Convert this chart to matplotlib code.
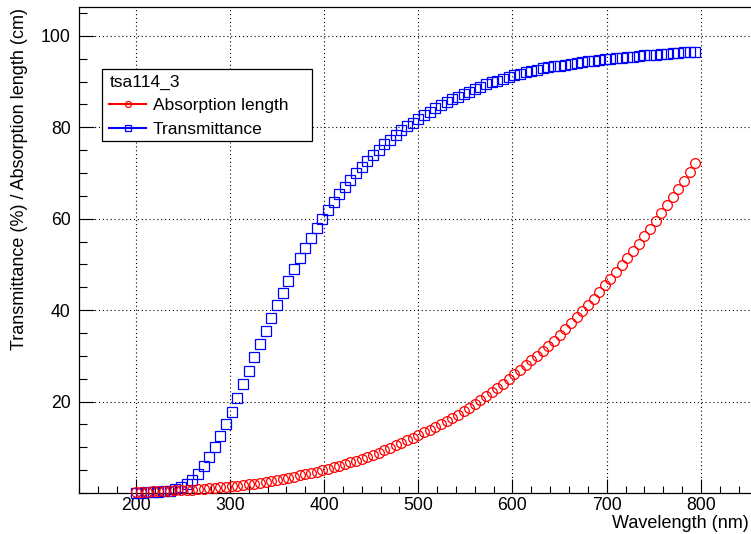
import matplotlib
matplotlib.use('Agg')
import matplotlib.pyplot as plt
from matplotlib.lines import Line2D
from matplotlib.patches import Rectangle
from matplotlib.ticker import MultipleLocator, FixedLocator

plt.rcParams['font.family'] = ['Liberation Sans', 'DejaVu Sans']

# ---------------- data ----------------
wavelength = [200, 206, 212, 218, 224, 230, 236, 242, 248, 254,
              260, 266, 272, 278, 284, 290, 296, 302, 308, 314,
              320, 326, 332, 338, 344, 350, 356, 362, 368, 374,
              380, 386, 392, 398, 404, 410, 416, 422, 428, 434,
              440, 446, 452, 458, 464, 470, 476, 482, 488, 494,
              500, 506, 512, 518, 524, 530, 536, 542, 548, 554,
              560, 566, 572, 578, 584, 590, 596, 602, 608, 614,
              620, 626, 632, 638, 644, 650, 656, 662, 668, 674,
              680, 686, 692, 698, 704, 710, 716, 722, 728, 734,
              740, 746, 752, 758, 764, 770, 776, 782, 788, 794]

absorption_length = [0.2, 0.25, 0.3, 0.35, 0.4, 0.45, 0.5, 0.55, 0.6, 0.68,
                     0.75, 0.85, 0.95, 1.05, 1.15, 1.25, 1.35, 1.45, 1.6, 1.75,
                     1.9, 2.05, 2.25, 2.45, 2.65, 2.9, 3.1, 3.35, 3.6, 3.85,
                     4.1, 4.4, 4.65, 4.95, 5.25, 5.6, 5.95, 6.3, 6.7, 7.1,
                     7.5, 7.95, 8.4, 8.85, 9.35, 9.85, 10.4, 10.95, 11.5, 12.1,
                     12.7, 13.25, 13.83, 14.44, 15.07, 15.73, 16.42, 17.13, 17.87, 18.64,
                     19.44, 20.26, 21.11, 21.99, 22.9, 23.85, 24.9, 26.0, 27.0, 28.0,
                     29.0, 30.05, 31.1, 32.2, 33.35, 34.55, 35.85, 37.15, 38.45, 39.75,
                     41.05, 42.45, 43.95, 45.45, 46.9, 48.35, 49.85, 51.4, 52.95, 54.55,
                     56.2, 57.85, 59.5, 61.2, 62.95, 64.7, 66.5, 68.35, 70.25, 72.2]

transmittance = [0.1, 0.1, 0.15, 0.2, 0.25, 0.35, 0.5, 0.8, 1.3, 2.0,
                 2.9, 4.2, 5.9, 7.8, 10.0, 12.4, 15.0, 17.8, 20.8, 23.8,
                 26.7, 29.7, 32.6, 35.5, 38.3, 41.1, 43.8, 46.4, 48.9, 51.3,
                 53.5, 55.7, 57.9, 59.9, 61.8, 63.6, 65.3, 66.9, 68.4, 69.9,
                 71.3, 72.7, 73.9, 75.1, 76.3, 77.3, 78.3, 79.3, 80.2, 81.0,
                 81.8, 82.6, 83.4, 84.1, 84.8, 85.5, 86.1, 86.7, 87.3, 87.8,
                 88.4, 88.9, 89.4, 89.8, 90.2, 90.6, 91.0, 91.35, 91.7, 92.0,
                 92.3, 92.6, 92.85, 93.1, 93.3, 93.5, 93.7, 93.9, 94.1, 94.25,
                 94.4, 94.55, 94.7, 94.85, 95.0, 95.1, 95.25, 95.35, 95.45, 95.6,
                 95.7, 95.8, 95.9, 96.0, 96.1, 96.2, 96.3, 96.4, 96.45, 96.55]

x_ticks = [200, 300, 400, 500, 600, 700, 800]
y_ticks = [20, 40, 60, 80, 100]
legend_title = "tsa114_3"
series_labels = ["Absorption length", "Transmittance"]
x_title = "Wavelength (nm)"
y_title = "Transmittance (%) / Absorption length (cm)"

# ---------------- figure ----------------
W, H = 751, 534
fig = plt.figure(figsize=(W / 100, H / 100), dpi=100)
ax = fig.add_axes([79.2 / W, 41.0 / H, 678.2 / W, 486.0 / H])

RED = '#ff0000'
BLUE = '#0000ff'

ax.plot(wavelength, transmittance, ls='none', marker='s', ms=7.3,
        mfc='none', mec=BLUE, mew=0.9, clip_on=False, zorder=3)
ax.plot(wavelength, absorption_length, ls='none', marker='o', ms=7.0,
        mfc='none', mec=RED, mew=0.9, clip_on=False, zorder=4)

ax.set_xlim(140, 860)
ax.set_ylim(0, 106.3)

ax.xaxis.set_major_locator(FixedLocator(x_ticks))
ax.xaxis.set_minor_locator(MultipleLocator(20))
ax.yaxis.set_major_locator(FixedLocator(y_ticks))
ax.yaxis.set_minor_locator(MultipleLocator(5))

ax.grid(True, which='major', color='black', linestyle=(0, (1, 2.5)), linewidth=0.8)
ax.set_axisbelow(True)

for s in ax.spines.values():
    s.set_linewidth(0.9)
    s.set_color('black')

ax.tick_params(axis='x', which='major', direction='in', length=10, width=0.8,
               labelsize=12.7, pad=3, top=False)
ax.tick_params(axis='x', which='minor', direction='in', length=4.7, width=0.8, top=False)
ax.tick_params(axis='y', which='major', direction='in', length=11, width=0.8,
               labelsize=12.7, pad=6, right=False)
ax.tick_params(axis='y', which='minor', direction='in', length=5.4, width=0.8, right=False)

fig.text(749 / W, 1 - 523.5 / H, x_title, ha='right', va='center', fontsize=13)
fig.text(20 / W, 1 - 8 / H, y_title, ha='center', va='top', rotation=90, fontsize=13)

# legend box
box = Rectangle((102 / W, 1 - 141 / H), 210 / W, 72 / H, transform=fig.transFigure,
                facecolor='white', edgecolor='black', linewidth=0.9, zorder=10)
fig.add_artist(box)

handles = [Line2D([0], [0], color=RED, lw=1.5, marker='o', ms=4.3, mfc='none', mec=RED, mew=0.9),
           Line2D([0], [0], color=BLUE, lw=1.5, marker='s', ms=4.0, mfc='none', mec=BLUE, mew=0.9)]
leg = fig.legend(handles, series_labels, title=legend_title, loc='upper left',
                 bbox_to_anchor=(106 / W, 1 - 71 / H), bbox_transform=fig.transFigure,
                 frameon=False, fontsize=12.5, title_fontsize=12.5, alignment='left',
                 handlelength=2.1, handletextpad=0.4, labelspacing=0.5,
                 borderpad=0.2, borderaxespad=0)
leg.set_zorder(11)

fig.savefig('out.png', dpi=100)
